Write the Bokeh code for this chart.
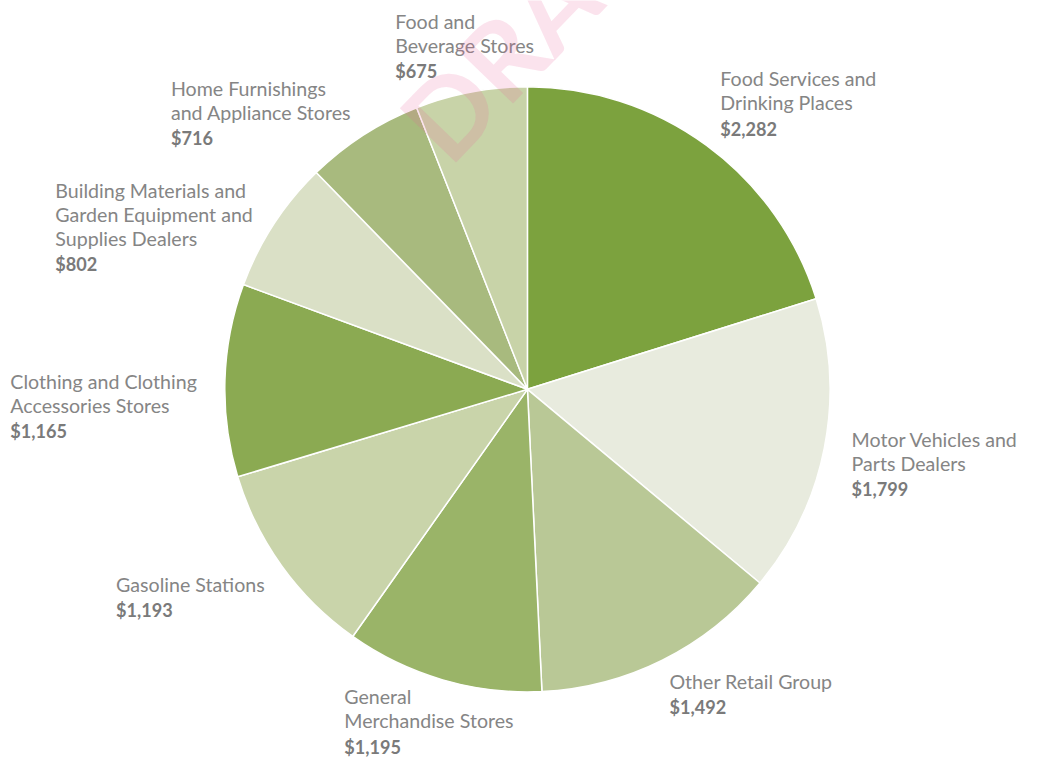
import math
from bokeh.plotting import figure
from bokeh.models import Range1d, ColumnDataSource
from bokeh.core.properties import value
from bokeh.embed import file_html
from bokeh.resources import INLINE

# ---- data ----
categories = [
    "Food Services and Drinking Places",
    "Motor Vehicles and Parts Dealers",
    "Other Retail Group",
    "General Merchandise Stores",
    "Gasoline Stations",
    "Clothing and Clothing Accessories Stores",
    "Building Materials and Garden Equipment and Supplies Dealers",
    "Home Furnishings and Appliance Stores",
    "Food and Beverage Stores",
]
values = [2282, 1799, 1492, 1195, 1193, 1165, 802, 716, 675]
label_lines = [
    ["Food Services and", "Drinking Places"],
    ["Motor Vehicles and", "Parts Dealers"],
    ["Other Retail Group"],
    ["General", "Merchandise Stores"],
    ["Gasoline Stations"],
    ["Clothing and Clothing", "Accessories Stores"],
    ["Building Materials and", "Garden Equipment and", "Supplies Dealers"],
    ["Home Furnishings", "and Appliance Stores"],
    ["Food and", "Beverage Stores"],
]

# ---- styles / layout ----
colors = ["#7CA23E", "#E8EBDE", "#B9C896", "#9AB468", "#C9D4AA",
          "#8BAA52", "#DAE0C6", "#A8BA7E", "#C8D3A8"]
label_anchor = [(735, 80), (869, 448), (683, 695), (351, 711), (118, 596),
                (10, 389), (56, 194), (174, 90), (403, 21)]  # px, first line centre
cx, cy, R = 538, 397, 309
LINE = 24.6

W, H = 1024, 761
S = 761 / 777.0   # fit 1040x777 design into the 1024x761 canvas
p = figure(width=W, height=H, output_backend="svg", toolbar_location=None,
           x_range=Range1d(0, W / S), y_range=Range1d(-H / S, 0),
           min_border=0, outline_line_color=None)
p.axis.visible = False
p.grid.visible = False
p.background_fill_color = "white"
p.border_fill_color = "white"

total = sum(values)
starts, ends = [], []
cum = 0.0
for v in values:
    a0 = math.pi / 2 - 2 * math.pi * cum / total
    cum += v
    a1 = math.pi / 2 - 2 * math.pi * cum / total
    starts.append(a0)
    ends.append(a1)

src = ColumnDataSource(dict(start=starts, end=ends, color=colors,
                            x=[cx] * len(values), y=[-cy] * len(values)))
p.wedge(x="x", y="y", radius=R, start_angle="start", end_angle="end",
        direction="clock", fill_color="color", line_color="white",
        line_width=1.5, source=src)

# labels
nx, ny, nt, vx, vy, vt = [], [], [], [], [], []
for lines, v, (lx, ly) in zip(label_lines, values, label_anchor):
    for i, ln in enumerate(lines):
        nx.append(lx)
        ny.append(-(ly + i * LINE))
        nt.append(ln)
    vx.append(lx)
    vy.append(-(ly + len(lines) * LINE + 1.5))
    vt.append("${:,}".format(v))

p.text(x=nx, y=ny, text=nt, text_font=value("Lato"),
       text_font_size="%.1fpx" % (20 * S),
       text_color="#858585", text_baseline="middle", text_align="left")
p.text(x=vx, y=vy, text=vt, text_font=value("Lato"),
       text_font_size="%.1fpx" % (18.5 * S),
       text_font_style="bold", text_color="#7A7A7A", text_baseline="middle",
       text_align="left")

# draft watermark
p.text(x=[428], y=[-142], text=["DRAFT"], angle=math.radians(46),
       text_font=value("Lato"), text_font_size="%.0fpx" % (110 * S),
       text_font_style="bold",
       text_color="#E8669A", text_alpha=0.18, text_baseline="alphabetic",
       text_align="left")

open("out.html", "w").write(file_html(p, INLINE))
